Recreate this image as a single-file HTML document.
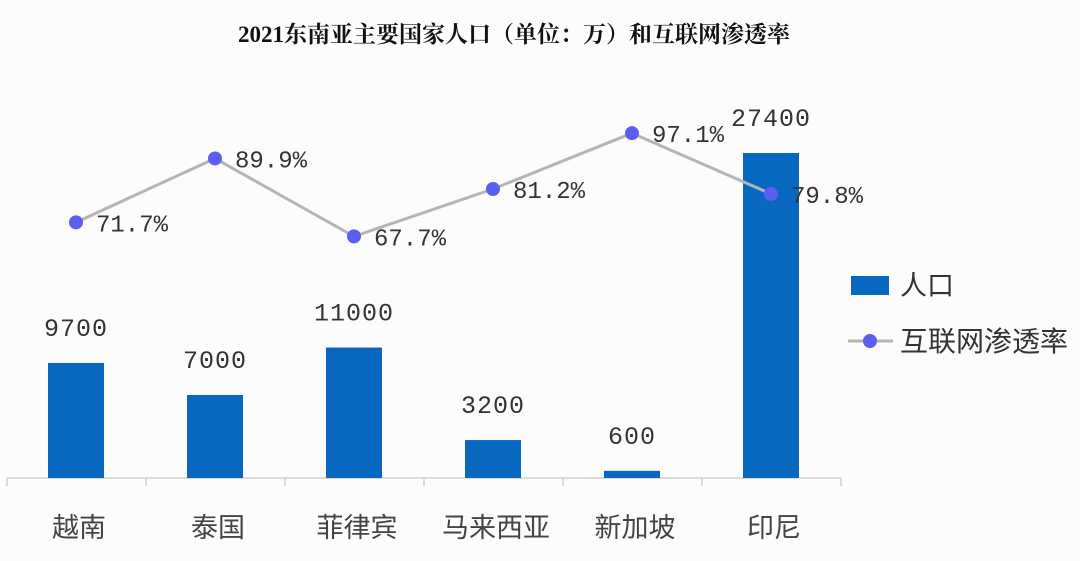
<!DOCTYPE html>
<html><head><meta charset="utf-8">
<style>
body{margin:0;background:#fcfcfd;}
svg{display:block;}
</style></head>
<body>
<svg id="chart" width="1080" height="561" viewBox="0 0 1080 561">
<rect width="1080" height="561" fill="#fcfcfd"/>
<text x="514" y="42" text-anchor="middle" font-family="'Liberation Serif','Noto Serif CJK SC',serif" font-weight="bold" font-size="23" fill="#111">2021东南亚主要国家人口（单位：万）和互联网渗透率</text>
<g id="axis"></g>
<g id="bars"></g>
<g id="line"></g>
<g>
<rect x="851" y="276" width="38" height="19" fill="#0868c0"/>
<text x="900" y="295" font-family="'Liberation Sans','Noto Sans CJK SC',sans-serif" font-size="27" fill="#333">人口</text>
<line x1="848" y1="341" x2="893" y2="341" stroke="#b5b5b5" stroke-width="3"/>
<circle cx="870" cy="341" r="7" fill="#5b5ef0"/>
<text x="900" y="351" font-family="'Liberation Sans','Noto Sans CJK SC',sans-serif" font-size="28" fill="#333">互联网渗透率</text>
</g>
</svg>
<script>
const categories = ['越南','泰国','菲律宾','马来西亚','新加坡','印尼'];
const population = [9700, 7000, 11000, 3200, 600, 27400];
const penetration = [71.7, 89.9, 67.7, 81.2, 97.1, 79.8];
const popLabels = ['9700','7000','11000','3200','600','27400'];
const penLabels = ['71.7%','89.9%','67.7%','81.2%','97.1%','79.8%'];

const NS='http://www.w3.org/2000/svg';
const baseY=478, x0=76, step=139, tickStart=7;
function xPos(i){return x0+i*step;}
function yBar(v){return baseY - v*(325/27400);}
function yLine(v){return 474 - v*3.51;}
function mk(tag,attrs,parent){const e=document.createElementNS(NS,tag);for(const k in attrs)e.setAttribute(k,attrs[k]);parent.appendChild(e);return e;}
const axis=document.getElementById('axis'),bars=document.getElementById('bars'),line=document.getElementById('line');
const mono="'Liberation Mono','DejaVu Sans Mono',monospace";
const cjk="'Liberation Sans','Noto Sans CJK SC',sans-serif";

let al=mk('line',{x1:tickStart,y1:baseY,x2:tickStart+categories.length*step,y2:baseY,stroke:'#d0d0d0','stroke-width':1.5},axis);


for(let i=0;i<=categories.length;i++){
  const t=mk('line',{x1:tickStart+i*step,y1:baseY,x2:tickStart+i*step,y2:baseY+8,stroke:'#d0d0d0','stroke-width':1.5},axis);
  
  
}
categories.forEach((c,i)=>{
  const t=mk('text',{x:xPos(i)+3,y:537,'text-anchor':'middle','font-family':cjk,'font-size':27,fill:'#444'},axis);
  t.textContent=c;
  
  
});
population.forEach((v,i)=>{
  const top=yBar(v);
  const r=mk('rect',{x:xPos(i)-28,y:top,width:56,height:baseY-top,fill:'#0868c0'},bars);
  
  
  const t=mk('text',{x:xPos(i),y:top-27,'text-anchor':'middle','font-family':mono,'font-size':25,'letter-spacing':1,fill:'#333'},bars);
  t.textContent=popLabels[i];
  
  
});
const pts=penetration.map((v,i)=>xPos(i)+','+yLine(v)).join(' ');
const pl=mk('polyline',{points:pts,fill:'none',stroke:'#b5b5b5','stroke-width':3},line);


penetration.forEach((v,i)=>{
  const c=mk('circle',{cx:xPos(i),cy:yLine(v),r:7,fill:'#5b5ef0'},line);
  
  
  const t=mk('text',{x:xPos(i)+20,y:yLine(v)+9,'font-family':mono,'font-size':24,fill:'#333'},line);
  t.textContent=penLabels[i];
  
  
});
</script>
</body></html>
